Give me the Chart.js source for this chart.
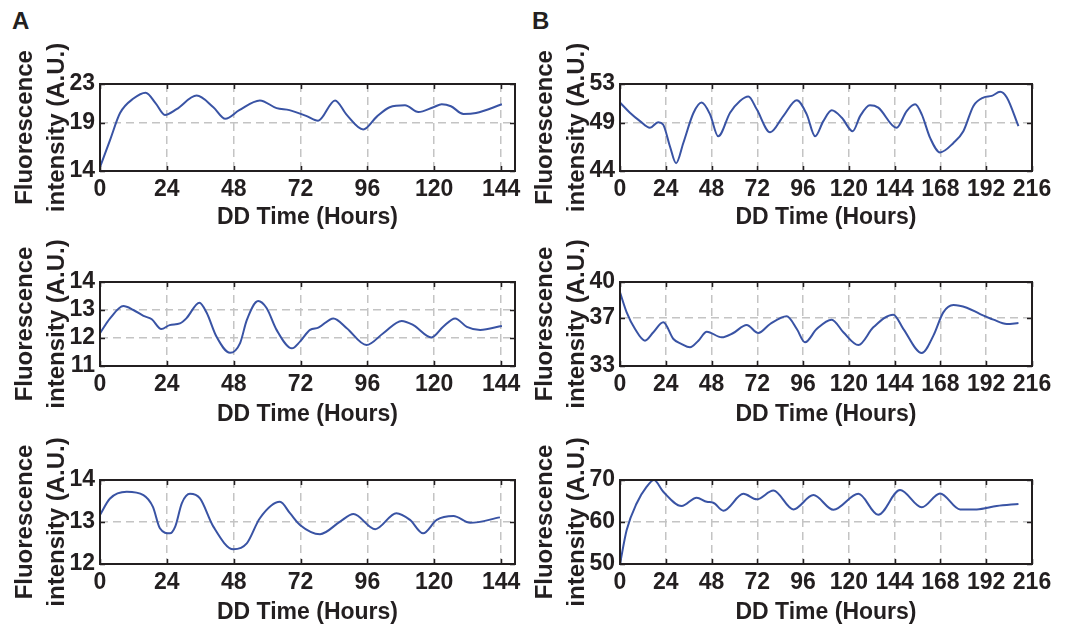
<!DOCTYPE html>
<html>
<head>
<meta charset="utf-8">
<script src="https://cdn.jsdelivr.net/npm/chart.js@4.4.1/dist/chart.umd.min.js"></script>
<style>
  body { margin: 0; background: #fff; }
  #wrap { position: relative; width: 1067px; height: 627px; overflow: hidden; }
  canvas { position: absolute; }
  .tag { position: absolute; font: bold 24px 'Liberation Sans', Arial, sans-serif; color: #231f20; }
</style>
</head>
<body>
<div id="wrap">
  <div class="tag" style="left:12px;top:7px">A</div>
  <div class="tag" style="left:532px;top:7px">B</div>
  <canvas id="a1" width="530" height="231" style="left:0;top:0"></canvas>
  <canvas id="b1" width="547" height="231" style="left:520px;top:0"></canvas>
  <canvas id="a2" width="530" height="198" style="left:0;top:230px"></canvas>
  <canvas id="b2" width="547" height="198" style="left:520px;top:230px"></canvas>
  <canvas id="a3" width="530" height="200" style="left:0;top:426px"></canvas>
  <canvas id="b3" width="547" height="200" style="left:520px;top:426px"></canvas>
</div>
<script>
// column A: 0-144 h, column B: 0-216 h
const hoursTicksA = [0, 24, 48, 72, 96, 120, 144];
const hoursTicksB = [0, 24, 48, 72, 96, 120, 144, 168, 192, 216];

const a1Hours = [0, 3.6, 7.2, 12, 16.4, 20, 23.3, 27.5, 34.7, 40.7, 45, 50, 57.4, 63.4, 68, 74, 78.3, 84.4, 88.6, 94.5, 99.3, 104, 109.5, 114.3, 119.7, 122.7, 126, 130.5, 135, 144.3];
const a1Values = [14.4, 17.2, 20.0, 21.5, 22.1, 21.0, 19.8, 20.4, 21.8, 20.6, 19.4, 20.3, 21.3, 20.5, 20.3, 19.7, 19.2, 21.3, 19.8, 18.3, 19.6, 20.6, 20.8, 20.1, 20.6, 20.9, 20.7, 19.9, 20.0, 20.9];
const a1Ticks = [14, 19, 23];

const a2Hours = [0, 3.6, 8.4, 12, 15.6, 18.6, 22, 25, 28.7, 31, 35.7, 38.3, 41.8, 46.7, 50.3, 52.7, 56.8, 59.8, 63.4, 68.9, 71.8, 75.4, 78.4, 83.8, 88.6, 95.7, 101.7, 108.3, 112.5, 119, 123.2, 127.5, 131.7, 136.5, 144.3];
const a2Values = [12.17, 12.7, 13.14, 13.0, 12.79, 12.67, 12.32, 12.46, 12.52, 12.7, 13.26, 12.9, 12.05, 11.47, 11.82, 12.64, 13.32, 13.07, 12.29, 11.63, 11.87, 12.29, 12.37, 12.7, 12.35, 11.75, 12.17, 12.61, 12.46, 12.02, 12.4, 12.7, 12.4, 12.29, 12.43];
const a2Ticks = [11, 12, 13, 14];

const a3Hours = [0, 3.6, 9.6, 15.6, 19, 21.5, 25.1, 27, 29.4, 32.3, 35.9, 40.7, 47.9, 52.7, 57.4, 64.6, 68.2, 71.8, 79, 86.2, 91, 98.8, 106.4, 111.3, 116, 120.9, 126.9, 132.9, 143.6];
const a3Values = [13.17, 13.56, 13.72, 13.64, 13.36, 12.85, 12.73, 12.89, 13.45, 13.67, 13.56, 12.89, 12.35, 12.49, 13.09, 13.48, 13.21, 12.93, 12.71, 13.01, 13.19, 12.83, 13.21, 13.05, 12.73, 13.05, 13.14, 12.98, 13.11];
const a3Ticks = [12, 13, 14];

const b1Hours = [0, 5.2, 10.5, 15.7, 20, 22.6, 26.2, 29.4, 33.2, 38.5, 42.8, 47.2, 51.5, 57.7, 62.9, 67.3, 71.7, 78.7, 85.6, 92.7, 97.9, 102.3, 106.6, 111, 116.3, 122, 125.9, 131, 135.4, 145, 150.3, 154.7, 158.2, 162.6, 167.8, 174.8, 180, 185.3, 190.5, 194.9, 199.3, 202.8, 208.9];
const b1Values = [51.08, 50.03, 49.16, 48.47, 49.05, 48.81, 46.54, 44.8, 46.9, 50.0, 51.08, 49.86, 47.59, 50.03, 51.25, 51.71, 50.38, 48.0, 49.68, 51.32, 49.86, 47.59, 49.16, 50.28, 49.51, 48.11, 49.68, 50.8, 50.56, 48.47, 50.2, 50.9, 49.86, 47.42, 45.92, 46.9, 48.11, 50.73, 51.6, 51.77, 52.19, 51.6, 48.64];
const b1Ticks = [44, 49, 53];

const b2Hours = [0, 3.5, 7.9, 13.1, 17.5, 22.7, 28, 32.3, 36.7, 41.1, 45.5, 53.3, 59.4, 66.4, 72.5, 78.7, 87.4, 92.7, 97, 103.1, 111, 117.1, 125, 132.8, 143.3, 148.6, 158.2, 164.3, 169.5, 174.8, 181.8, 188.8, 195.8, 202.8, 208.9];
const b2Values = [39.14, 37.47, 36.08, 35.11, 35.81, 36.64, 35.25, 34.83, 34.56, 35.11, 35.86, 35.39, 35.75, 36.42, 35.75, 36.5, 37.14, 36.08, 34.97, 36.08, 36.86, 35.81, 34.75, 36.22, 37.28, 36.08, 34.08, 35.53, 37.47, 38.08, 37.86, 37.33, 36.86, 36.5, 36.58];
const b2Ticks = [33, 37, 40];

const b3Hours = [0, 3.5, 8.7, 14, 17.8, 22.7, 32.3, 40.2, 45.5, 48.9, 54.2, 64.7, 71.7, 80.4, 90.9, 101.4, 111.9, 125, 135.4, 146.8, 158.2, 167.8, 178.3, 187, 197.5, 208.9];
const b3Values = [50, 58.1, 64.4, 68.4, 70, 67.2, 63.8, 65.8, 64.8, 64.6, 62.7, 66.7, 65.4, 67.5, 63.0, 66.4, 62.9, 66.7, 61.7, 67.6, 63.5, 66.8, 63.0, 63.0, 63.8, 64.3];
const b3Ticks = [50, 60, 70];

const ink = '#231f20';
const family = "'Liberation Sans', Arial, Helvetica, sans-serif";

const framePlugin = {
    id: 'frame',
    afterDraw(chart) {
        const ctx = chart.ctx;
        const a = chart.chartArea;
        const x = chart.scales.x;
        const y = chart.scales.y;
        ctx.save();
        ctx.strokeStyle = ink;
        ctx.lineWidth = 1.5;
        ctx.beginPath();
        x.ticks.forEach(t => {
            const px = Math.round(x.getPixelForValue(t.value)) + 0.5;
            ctx.moveTo(px, a.bottom); ctx.lineTo(px, a.bottom - 5);
            ctx.moveTo(px, a.top); ctx.lineTo(px, a.top + 5);
        });
        y.ticks.forEach(t => {
            const py = Math.round(y.getPixelForValue(t.value)) + 0.5;
            ctx.moveTo(a.left, py); ctx.lineTo(a.left + 5, py);
            ctx.moveTo(a.right, py); ctx.lineTo(a.right - 5, py);
        });
        ctx.stroke();
        ctx.lineWidth = 2;
        ctx.strokeRect(a.left, a.top, a.right - a.left, a.bottom - a.top);
        ctx.restore();
    }
};

function panel(id, hours, values, xMax, xTicks, yTicks, padTop, padRight, xAxisH) {
    const ctx = document.getElementById(id).getContext('2d');
    new Chart(ctx, {
        type: 'line',
        data: {
            datasets: [{
                data: hours.map((h, i) => ({ x: h, y: values[i] })),
                borderColor: '#3953a4',
                borderWidth: 2,
                pointRadius: 0,
                cubicInterpolationMode: 'monotone',
                clip: 3
            }]
        },
        options: {
            responsive: false,
            animation: false,
            devicePixelRatio: 1,
            layout: { padding: { top: padTop, right: padRight, left: 0, bottom: 0 } },
            plugins: { legend: { display: false }, tooltip: { enabled: false } },
            scales: {
                x: {
                    type: 'linear',
                    min: 0,
                    max: xMax,
                    afterBuildTicks: s => { s.ticks = xTicks.map(v => ({ value: v })); },
                    afterFit: s => { s.height = xAxisH; },
                    grid: { color: '#c4c4c4', lineWidth: 1.5, drawTicks: false },
                    border: { display: false, dash: [8, 5] },
                    ticks: { color: ink, padding: 5, maxRotation: 0, autoSkip: false, font: { family, size: 23, weight: 'bold' } },
                    title: { display: true, text: 'DD Time (Hours)', color: ink, padding: 0, font: { family, size: 23, weight: 'bold' } }
                },
                y: {
                    min: yTicks[0],
                    max: yTicks[yTicks.length - 1],
                    afterBuildTicks: s => { s.ticks = yTicks.map(v => ({ value: v })); },
                    afterFit: s => { s.width = 100; },
                    grid: { color: '#c4c4c4', lineWidth: 1.5, drawTicks: false },
                    border: { display: false, dash: [8, 5] },
                    ticks: { color: ink, padding: 5, autoSkip: false, font: { family, size: 23, weight: 'bold' } },
                    title: {
                        display: true,
                        text: ['Fluorescence', 'intensity (A.U.)'],
                        color: ink,
                        padding: { top: 9, bottom: 0 },
                        font: { family, size: 24, weight: 'bold', lineHeight: 1.33 }
                    }
                }
            }
        },
        plugins: [framePlugin]
    });
}

panel('a1', a1Hours, a1Values, 149, hoursTicksA, a1Ticks, 84, 15, 60);
panel('b1', b1Hours, b1Values, 216, hoursTicksB, b1Ticks, 84, 35, 60);
panel('a2', a2Hours, a2Values, 149, hoursTicksA, a2Ticks, 52, 15, 62);
panel('b2', b2Hours, b2Values, 216, hoursTicksB, b2Ticks, 52, 35, 62);
panel('a3', a3Hours, a3Values, 149, hoursTicksA, a3Ticks, 54, 15, 62);
panel('b3', b3Hours, b3Values, 216, hoursTicksB, b3Ticks, 54, 35, 62);
</script>
</body>
</html>
